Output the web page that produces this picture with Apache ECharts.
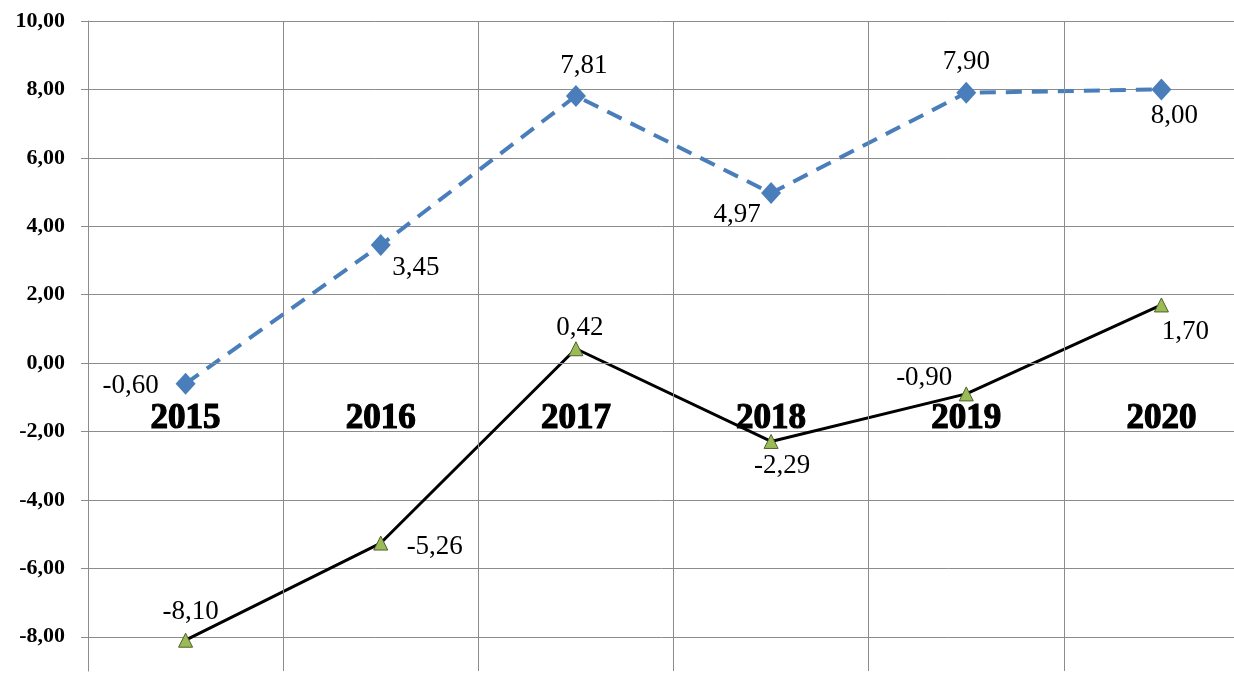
<!DOCTYPE html>
<html><head><meta charset="utf-8">
<script src="https://cdn.jsdelivr.net/npm/echarts@6/dist/echarts.min.js"></script>
<style>html,body{margin:0;padding:0;background:#fff}#c{width:1234px;height:675px}</style>
</head><body><div id="c"></div>
<script>
const categories = ['2015','2016','2017','2018','2019','2020'];
const seriesBlue = [-0.60, 3.45, 7.81, 4.97, 7.90, 8.00];
const seriesBlack = [-8.10, -5.26, 0.42, -2.29, -0.90, 1.70];
const yTicks = [-8, -6, -4, -2, 0, 2, 4, 6, 8, 10];

const blueOffsets = [[-55, 2], [35, 23], [8, -30], [-34, 22], [0, -31], [13, 26]];
const blackOffsets = [[5, -28], [54, 4], [4, -21], [11, 24], [-42, -16], [24, 27]];
const fmt = v => v.toFixed(2).replace('.', ',');
const FONT = '"Liberation Serif", "Times New Roman", serif';

function mkData(vals, offs) {
  return vals.map((v, i) => ({
    value: v,
    label: { offset: offs[i] }
  }));
}
const labelBase = {
  show: true, position: 'inside', color: '#000', fontFamily: FONT, fontSize: 27,
  formatter: p => fmt(p.value)
};

const chart = echarts.init(document.getElementById('c'), null, {renderer: 'canvas'});
chart.setOption({
  animation: false,
  backgroundColor: '#fff',
  grid: { left: 88, top: 21, bottom: 4, right: -25, containLabel: false, outerBoundsMode: 'none' },
  xAxis: {
    type: 'category', data: categories, boundaryGap: true, z: 5, offset: -308,
    axisLine: { show: true, onZero: false, lineStyle: { color: '#8c8c8c', width: 1 } },
    axisTick: { show: false },
    axisLabel: { color: '#000', fontFamily: FONT, fontSize: 35, fontWeight: 'bold',
      textBorderColor: '#000', textBorderWidth: 1.2, margin: 38 },
    splitLine: { show: true, lineStyle: { color: '#8c8c8c', width: 1 } }
  },
  yAxis: {
    type: 'value', min: -9, max: 10,
    axisLine: { show: true, lineStyle: { color: '#8c8c8c', width: 1 } },
    axisTick: { show: true, length: 7, customValues: yTicks, lineStyle: { color: '#8c8c8c' } },
    axisLabel: { customValues: yTicks, color: '#000', fontFamily: FONT, fontSize: 22, fontWeight: 'bold',
      margin: 23, formatter: v => fmt(v) },
    splitLine: { show: true, lineStyle: { color: '#8c8c8c', width: 1 } }
  },
  series: [
    {
      type: 'line', data: mkData(seriesBlue, blueOffsets), z: 3,
      lineStyle: { color: '#4a7ebb', width: 4, type: [16, 10] },
      symbol: 'diamond', symbolSize: [20, 22],
      itemStyle: { color: '#4a7ebb' },
      label: labelBase
    },
    {
      type: 'line', data: mkData(seriesBlack, blackOffsets), z: 4,
      lineStyle: { color: '#000', width: 3 },
      symbol: 'triangle', symbolSize: 14,
      itemStyle: { color: '#9bbb59', borderColor: '#4e6128', borderWidth: 1 },
      label: labelBase
    }
  ]
});
</script></body></html>
